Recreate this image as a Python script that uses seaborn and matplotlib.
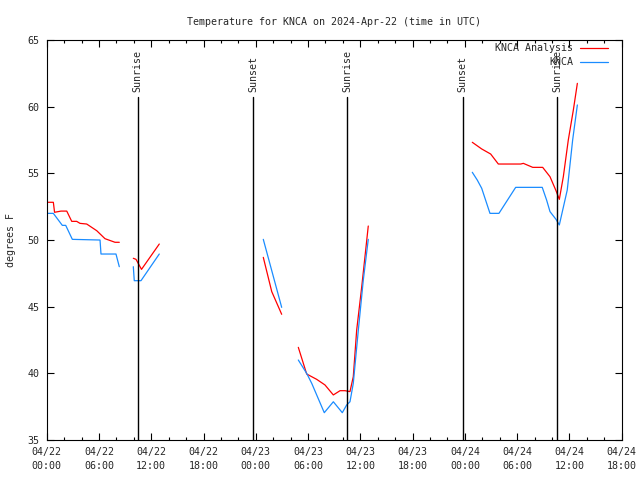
import numpy as np
import pandas as pd
import matplotlib
matplotlib.use("Agg")
import matplotlib.pyplot as plt
import matplotlib.dates as mdates
import seaborn as sns

# ── Data (hours after 2024-04-22 00:00 UTC, deg F; nan = gap) ──
nan = np.nan
analysis_hours = [0.0, 0.76, 0.90, 1.64, 2.30, 2.87, 3.44, 3.82, 4.59, 5.74, 6.69, 7.84, 8.33,
                  nan, 9.94, 10.25, 10.88, 12.92,
                  nan, 24.86, 25.83, 26.97,
                  nan, 28.88, 29.84, 30.99, 31.94, 32.90, 33.67, 34.24, 34.81, 35.19, 35.58, 36.16, 36.91,
                  nan, 48.85, 49.93, 50.96, 51.84, 54.41, 54.71, 55.79, 56.93, 57.77, 58.46, 58.84,
                  59.30, 59.87, 60.45, 60.91]
analysis_temps = [52.83, 52.83, 52.08, 52.17, 52.17, 51.4, 51.4, 51.25, 51.2, 50.7, 50.1, 49.83, 49.83,
                  nan, 48.63, 48.55, 47.8, 49.7,
                  nan, 48.7, 46.13, 44.43,
                  nan, 41.95, 39.95, 39.55, 39.13, 38.38, 38.7, 38.7, 38.63, 39.75, 43.25, 46.5, 51.05,
                  nan, 57.33, 56.83, 56.45, 55.7, 55.7, 55.75, 55.45, 55.45, 54.75, 53.7, 53.05,
                  54.75, 57.5, 59.75, 61.75]

obs_hours = [0.0, 0.76, 1.79, 2.18, 2.94, 6.12, 6.23, 7.95, 8.33,
             nan, 9.94, 10.05, 10.82, 12.92,
             nan, 24.86, 26.97,
             nan, 28.88, 29.84, 30.42, 31.86, 32.90, 33.93, 34.43, 34.81, 35.19, 35.77, 36.34, 36.91,
             nan, 48.85, 49.42, 49.93, 50.88, 51.91, 53.83, 56.88, 57.38, 57.77, 58.46, 58.84,
             59.75, 60.37, 60.91]
obs_temps = [52.0, 52.0, 51.1, 51.1, 50.05, 50.0, 48.95, 48.95, 48.0,
             nan, 48.0, 46.95, 46.95, 48.95,
             nan, 50.05, 44.95,
             nan, 41.0, 40.0, 39.25, 37.05, 37.87, 37.05, 37.63, 37.87, 39.25, 43.25, 47.0, 50.05,
             nan, 55.08, 54.5, 53.88, 52.0, 52.0, 53.95, 53.95, 53.0, 52.13, 51.55, 51.13,
             53.75, 57.5, 60.13]

event_hours = [10.44, 23.71, 34.51, 47.74, 58.56]
event_labels = ["Sunrise", "Sunset", "Sunrise", "Sunset", "Sunrise"]

series_names = ["KNCA Analysis", "KNCA"]
series_colors = {"KNCA Analysis": "#ff0000", "KNCA": "#1a8cff"}

START = pd.Timestamp("2024-04-22 00:00")
END = pd.Timestamp("2024-04-24 18:00")


def to_frame(hours, temps, name):
    h = np.array(hours, dtype=float)
    seg = np.cumsum(np.isnan(h))
    df = pd.DataFrame({"time": START + pd.to_timedelta(h, unit="h"),
                       "temp": np.array(temps, dtype=float),
                       "series": name, "segment": seg})
    return df.dropna()


df = pd.concat([to_frame(analysis_hours, analysis_temps, series_names[0]),
                to_frame(obs_hours, obs_temps, series_names[1])], ignore_index=True)

# ── Style ─────────────────────────────────────────────────
sns.set_style("ticks")
plt.rcParams["font.family"] = ["DejaVu Sans Mono"]
plt.rcParams.update({"xtick.direction": "in", "ytick.direction": "in",
                     "xtick.top": True, "ytick.right": True,
                     "axes.edgecolor": "black", "axes.linewidth": 0.8})
FS = 7.2

fig = plt.figure(figsize=(6.4, 4.8), dpi=100)
ax = fig.add_axes([0.073, 0.0833, 0.8984, 0.8333])

sns.lineplot(data=df, x="time", y="temp", hue="series", hue_order=series_names,
             palette=series_colors, units="segment", estimator=None, sort=False,
             linewidth=0.9, ax=ax)

for h, lab in zip(event_hours, event_labels):
    t = START + pd.Timedelta(hours=h)
    ax.axvline(t, ymin=0, ymax=0.857, color="black", linewidth=1.0)
    ax.text(t, 0.87, lab, transform=ax.get_xaxis_transform(), rotation=90,
            ha="center", va="bottom", fontsize=FS)

ax.set_xlim(START, END)
ax.set_ylim(35, 65)
ax.set_yticks(range(35, 66, 5))
ax.xaxis.set_major_locator(mdates.HourLocator(byhour=[0, 6, 12, 18]))
ax.xaxis.set_minor_locator(mdates.HourLocator(byhour=range(0, 24, 2)))
ax.xaxis.set_major_formatter(mdates.DateFormatter("%m/%d\n%H:%M"))
ax.tick_params(which="major", length=5, width=0.8, color="black", labelsize=FS, pad=5)
ax.tick_params(which="minor", length=2.5, width=0.8, color="black")
ax.tick_params(axis="y", which="minor", left=False, right=False)
for lbl in ax.get_xticklabels():
    lbl.set_linespacing(1.5)

ax.set_xlabel("")
ax.set_ylabel("degrees F", fontsize=FS)
ax.yaxis.set_label_coords(-0.053, 0.5)
ax.set_title("Temperature for KNCA on 2024-Apr-22 (time in UTC)", fontsize=FS, pad=11)

handles, labels = ax.get_legend_handles_labels()
ax.legend(handles, labels, loc="upper right", bbox_to_anchor=(0.977, 0.9925),
          frameon=False, markerfirst=False, fontsize=FS, borderaxespad=0, borderpad=0,
          handlelength=2.8, handletextpad=0.7, labelspacing=0.4)

fig.savefig("out.png", dpi=100)
